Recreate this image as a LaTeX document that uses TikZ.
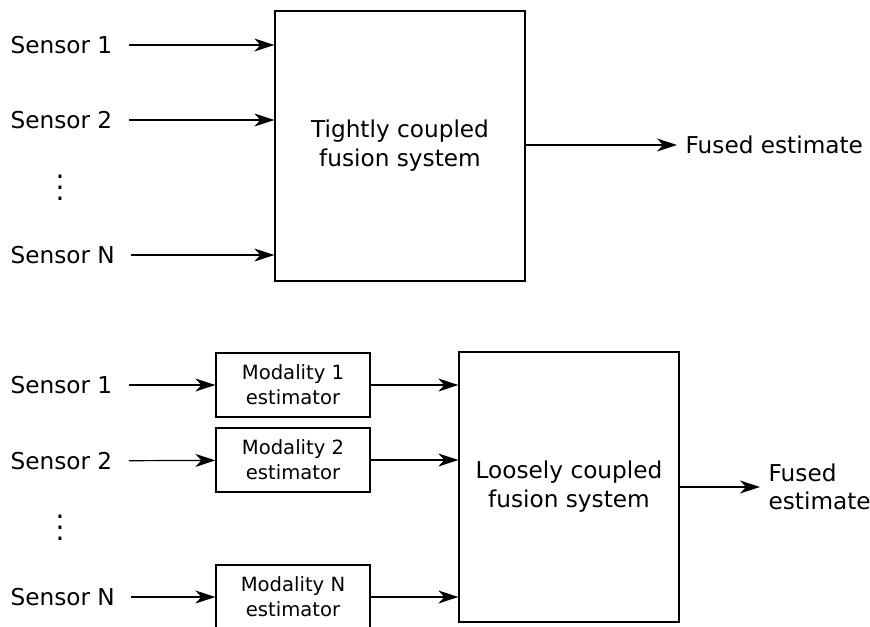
\documentclass[tikz,border=0pt]{standalone}
\usepackage{fontspec}
\setmainfont{DejaVu Sans}
\usetikzlibrary{arrows.meta}
\usetikzlibrary{positioning}
\tikzset{
  label/.style={anchor=west, inner sep=4pt, font=\fontsize{11.6}{14}\selectfont},
  fusion/.style={draw, line width=0.65pt, minimum height=135pt,
    align=center, font=\fontsize{11.6}{14.5}\selectfont},
  modality/.style={draw, line width=0.65pt, minimum width=77pt, minimum height=32pt,
    align=center, inner sep=1pt, font=\fontsize{9.8}{12.5}\selectfont},
  dots/.style={inner sep=0pt, align=center, font=\fontsize{14}{5.5}\selectfont}}

\begin{document}
\begin{tikzpicture}[x=0.5pt, y=-0.5pt,
      >={Stealth[length=10pt,width=6.5pt,inset=3pt]},
      line width=0.6pt]
    \useasboundingbox (0,0) rectangle (870,626);
    \clip (0,0) rectangle (870,626);

    % tightly coupled
    \node[fusion, minimum width=125pt]
      (Tight) at (400,146) {Tightly coupled\\fusion system};
    \node[label] (TSensorA) at (2,45) {Sensor 1};
    \node[label] (TSensorB) at (2,120) {Sensor 2};
    \node[label] (TSensorN) at (2,255) {Sensor N};
    \node[dots] (TDots) at (60,188) {.\\.\\.};
    \node[label] (TFused) at (677,145) {Fused estimate};

    \path[->]
      (TSensorA) edge [shorten <=4pt] (Tight.west |- TSensorA)
      (TSensorB) edge [shorten <=4pt] (Tight.west |- TSensorB)
      (TSensorN) edge [shorten <=4pt] (Tight.west |- TSensorN)
      (Tight.east |- TFused) edge (TFused);

    % loosely coupled
    \node[fusion, minimum width=110pt]
      (Loose) at (569,487) {Loosely coupled\\fusion system};
    \node[label] (LSensorA) at (2,385) {Sensor 1};
    \node[label] (LSensorB) at (2,461) {Sensor 2};
    \node[label] (LSensorN) at (2,597) {Sensor N};
    \node[dots] (LDots) at (60,528) {.\\.\\.};
    \node[modality] (ModA) at (293,385) {Modality 1\\estimator};
    \node[modality] (ModB) at (293,460) {Modality 2\\estimator};
    \node[modality] (ModN) at (293,597) {Modality N\\estimator};
    \node[label, align=left] (LFused) at (760,487) {Fused\\estimate};

    \path[->]
      (LSensorA) edge [shorten <=4pt] (ModA)
      (LSensorB) edge [shorten <=4pt] (ModB)
      (LSensorN) edge [shorten <=4pt] (ModN)
      (ModA) edge (Loose.west |- ModA)
      (ModB) edge (Loose.west |- ModB)
      (ModN) edge (Loose.west |- ModN)
      (Loose.east |- LFused) edge (LFused);

  \end{tikzpicture}
\end{document}
